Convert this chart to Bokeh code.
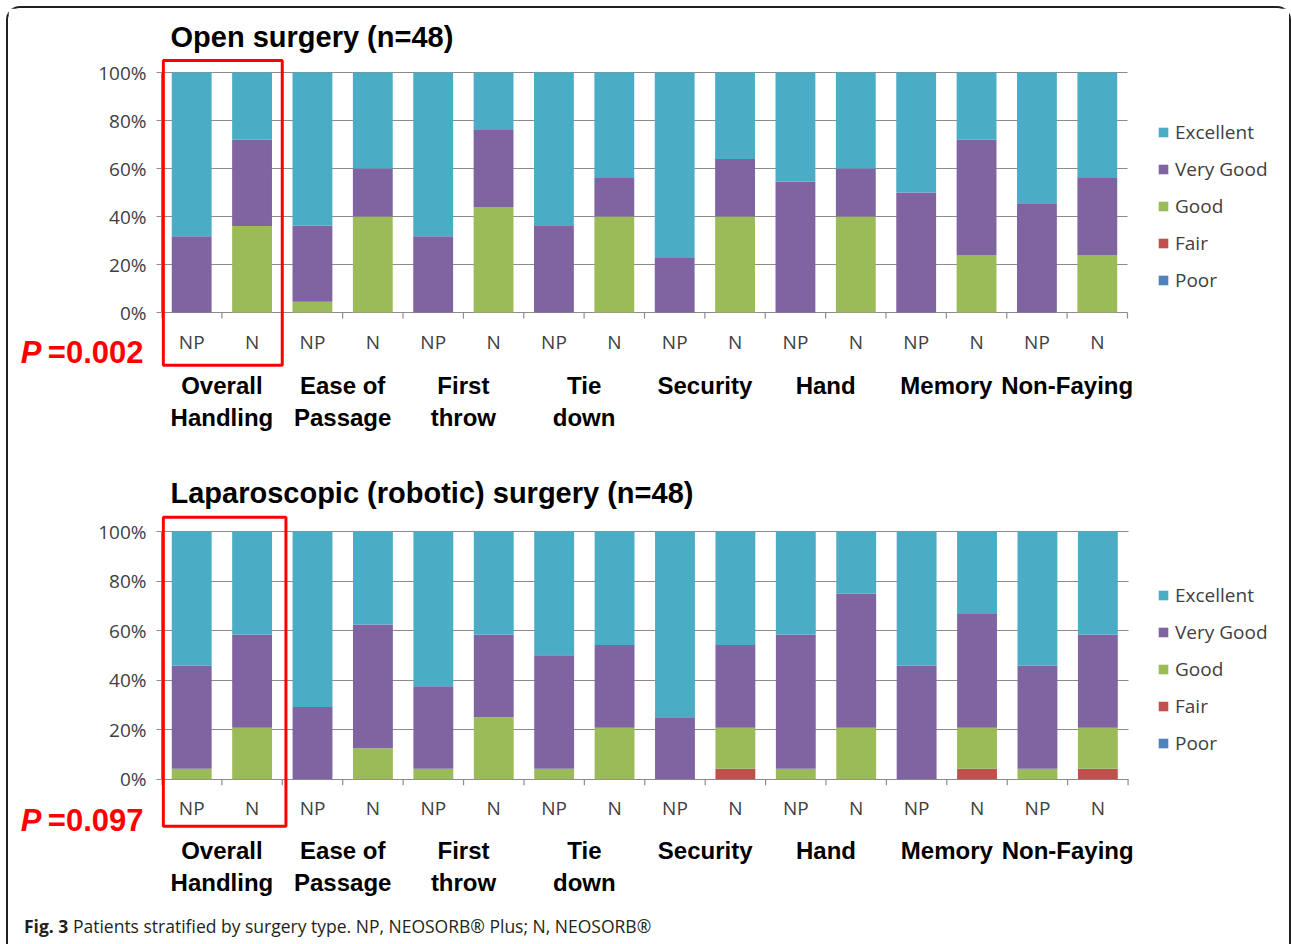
from bokeh.plotting import figure
from bokeh.layouts import column
from bokeh.models import (ColumnDataSource, Range1d, FixedTicker, LinearAxis,
                          PrintfTickFormatter, BoxAnnotation, Legend, LegendItem, Title,
                          Div)
from bokeh.core.properties import value
from bokeh.embed import file_html
from bokeh.resources import INLINE

categories = ["Overall\nHandling", "Ease of\nPassage", "First\nthrow", "Tie\ndown",
              "Security", "Hand", "Memory", "Non-Faying"]
products = ["NP", "N"]
ratings = ["Excellent", "Very Good", "Good", "Fair", "Poor"]
colors = ["#4BACC6", "#8064A2", "#9BBB59", "#C0504D", "#4F81BD"]

# Open surgery (n=48), % per bar, order NP, N per category
open_excellent = [68.2, 28, 63.7, 40, 68.2, 24, 63.6, 44, 77.3, 36, 45.5, 40, 50, 28, 54.5, 44]
open_very_good = [31.8, 36, 31.8, 20, 31.8, 32, 36.4, 16, 22.7, 24, 54.5, 20, 50, 48, 45.5, 32]
open_good      = [0, 36, 4.5, 40, 0, 44, 0, 40, 0, 40, 0, 40, 0, 24, 0, 24]
open_fair      = [0] * 16
open_poor      = [0] * 16

# Laparoscopic (robotic) surgery (n=48)
lap_excellent = [54.2, 41.7, 70.8, 37.5, 62.5, 41.7, 50, 45.8, 75, 45.8, 41.7, 25, 54.2, 33.3, 54.2, 41.7]
lap_very_good = [41.6, 37.5, 29.2, 50, 33.3, 33.3, 45.8, 33.4, 25, 33.4, 54.1, 54.2, 45.8, 45.9, 41.6, 37.5]
lap_good      = [4.2, 20.8, 0, 12.5, 4.2, 25, 4.2, 20.8, 0, 16.6, 4.2, 20.8, 0, 16.6, 4.2, 16.6]
lap_fair      = [0, 0, 0, 0, 0, 0, 0, 0, 0, 4.2, 0, 0, 0, 4.2, 0, 4.2]
lap_poor      = [0] * 16

y_ticks = [0, 20, 40, 60, 80, 100]

caption_head = "Fig. 3"
caption_text = "Patients stratified by surgery type. NP, NEOSORB\u00ae Plus; N, NEOSORB\u00ae"

BOLD = "'Liberation Sans', Arial, sans-serif"
SANS = "'Open Sans', 'Noto Sans', sans-serif"
GRAY = "#8c8c8c"
TXT = "#404040"
RED = "#FF0000"

n_bars = len(categories) * len(products)
bar_labels = [p for c in categories for p in products]
centers = [i + 0.5 for i in range(n_bars)]
bounds = [float(i) for i in range(n_bars + 1)]
group_centers = [len(products) * g + len(products) / 2 for g in range(len(categories))]


def make_chart(title, pval, exc, vg, good, fair, poor, W, H, left, top, fw, bars_w, fh,
               y0, y1, box, legend_xy, group_standoff, p_y):
    src = ColumnDataSource(dict(x=centers, Excellent=exc, VeryGood=vg, Good=good,
                                Fair=fair, Poor=poor))
    x_end = n_bars * fw / bars_w
    p = figure(width=W, height=H, x_range=Range1d(0, x_end), y_range=Range1d(y0, y1),
               output_backend="svg", toolbar_location=None,
               min_border_left=left, min_border_top=top,
               min_border_right=W - left - fw, min_border_bottom=H - top - fh)
    p.outline_line_color = None
    p.background_fill_color = "white"
    p.border_fill_color = "white"

    # horizontal grid, limited to the bar area
    grid = p.ygrid[0]
    grid.ticker = FixedTicker(ticks=y_ticks)
    if "cross_bounds" in grid.properties():
        grid.cross_bounds = (0, n_bars)
        grid.grid_line_color = GRAY
        grid.grid_line_width = 1.2
    else:
        grid.visible = False
        p.segment(x0=[0] * len(y_ticks), y0=y_ticks, x1=[n_bars] * len(y_ticks),
                  y1=y_ticks, line_color=GRAY, line_width=1.2)
    p.xgrid.visible = False

    stackers = ["Poor", "Fair", "Good", "VeryGood", "Excellent"]
    stack_cols = [colors[4], colors[3], colors[2], colors[1], colors[0]]
    rends = p.vbar_stack(stackers, x="x", width=0.66, color=stack_cols,
                         line_color=None, source=src)

    # category ticks at the boundaries and NP / N labels under the 0% line
    px_per_unit = fh / (y1 - y0)
    p.segment(x0=bounds, y0=[0] * len(bounds), x1=bounds,
              y1=[-6 / px_per_unit] * len(bounds), line_color=GRAY, line_width=1.2)
    p.text(x=centers, y=[-29 / px_per_unit] * n_bars, text=bar_labels,
           text_font=value(SANS), text_font_size="19px", text_color=TXT,
           text_align="center", text_baseline="middle")

    # y axis
    ya = p.yaxis[0]
    ya.ticker = FixedTicker(ticks=y_ticks)
    ya.bounds = (0, 100)
    ya.formatter = PrintfTickFormatter(format="%d%%")
    ya.axis_line_color = GRAY
    ya.major_tick_line_color = GRAY
    ya.major_tick_out = 5
    ya.major_tick_in = 0
    ya.minor_tick_line_color = None
    ya.major_label_text_font = SANS
    ya.major_label_text_font_size = "19px"
    ya.major_label_text_color = TXT
    ya.major_label_standoff = 10

    # P value as two outer left axes
    pa1 = LinearAxis(ticker=FixedTicker(ticks=[p_y]), major_label_overrides={p_y: pval})
    pa2 = LinearAxis(ticker=FixedTicker(ticks=[p_y]), major_label_overrides={p_y: "P"})
    for ax, st, style in ((pa1, -48, "bold"), (pa2, 3, "bold italic")):
        ax.axis_line_color = None
        ax.major_tick_line_color = None
        ax.minor_tick_line_color = None
        ax.major_tick_out = 0
        ax.major_tick_in = 0
        ax.major_label_standoff = st
        ax.major_label_orientation = "horizontal"
        ax.major_label_text_font = BOLD
        ax.major_label_text_font_style = style
        ax.major_label_text_font_size = "31px"
        ax.major_label_text_color = RED
        p.add_layout(ax, "left")

    # group labels on the bottom axis
    ga = p.xaxis[0]
    ga.ticker = FixedTicker(ticks=group_centers)
    ga.major_label_overrides = {g: c for g, c in zip(group_centers, categories)}
    ga.axis_line_color = None
    ga.major_tick_line_color = None
    ga.minor_tick_line_color = None
    ga.major_tick_out = 0
    ga.major_tick_in = 0
    ga.major_label_standoff = group_standoff
    ga.major_label_text_font = BOLD
    ga.major_label_text_font_style = "bold"
    ga.major_label_text_font_size = "24px"
    ga.major_label_text_color = "black"
    ga.major_label_text_line_height = 1.2

    # legend to the right of the bars
    items = [LegendItem(label=name, renderers=[r])
             for name, r in zip(["Poor", "Fair", "Good", "Very Good", "Excellent"], rends)]
    lg = Legend(items=list(reversed(items)), location=legend_xy)
    lg.background_fill_alpha = 0
    lg.border_line_color = None
    lg.padding = 0
    lg.margin = 0
    lg.glyph_width = 12
    lg.glyph_height = 12
    lg.label_standoff = 6
    lg.label_height = 24
    lg.spacing = 11
    lg.label_text_font = SANS
    lg.label_text_font_size = "19px"
    lg.label_text_color = TXT
    p.add_layout(lg, "center")

    # title
    p.title = Title(text=title, align="left", offset=9, text_font=BOLD,
                    text_font_style="bold", text_font_size="29px", text_color="black")

    # red highlight box
    bl, br, bt, bb = box
    p.add_layout(BoxAnnotation(left=bl, right=br, top=bt, bottom=bb,
                               fill_alpha=0, line_color=RED, line_alpha=1.0,
                               line_width=3))
    return p


# canvas origin of p1 is page (8, 8); p2 starts at page (8, 466); caption at (8, 914)
p1 = make_chart("Open surgery (n=48)", "=0.002",
                open_excellent, open_very_good, open_good, open_fair, open_poor,
                W=1281, H=458, left=153, top=49, fw=1124, bars_w=966, fh=311,
                y0=-23.33, y1=106.25, box=(0.03, 2.0, 105.0, -22.0),
                legend_xy=(996, 75), group_standoff=3, p_y=-16.6)
p2 = make_chart("Laparoscopic (robotic)  surgery (n=48)", "=0.097",
                lap_excellent, lap_very_good, lap_good, lap_fair, lap_poor,
                W=1281, H=448, left=149, top=47, fw=1128, bars_w=970, fh=316,
                y0=-20.3, y1=107.27, box=(0.03, 2.06, 105.8, -19.0),
                legend_xy=(996, 73), group_standoff=7, p_y=-16.6)

# caption
cap = Div(text="<b>%s</b> %s" % (caption_head, caption_text), width=1281, height=30,
          margin=0,
          styles={"font-family": "'Open Sans', 'Noto Sans', sans-serif",
                  "font-size": "17.5px", "color": "#231f20", "line-height": "24px",
                  "padding-left": "16px", "white-space": "nowrap"})

layout = column(p1, p2, cap, styles={"margin-left": "6px", "margin-top": "6px",
                                     "border-top": "2px solid #231f20",
                                     "border-left": "2px solid #231f20",
                                     "border-right": "2px solid #231f20",
                                     "border-top-left-radius": "14px",
                                     "border-top-right-radius": "14px"})

open("out.html", "w").write(file_html(layout, INLINE))
